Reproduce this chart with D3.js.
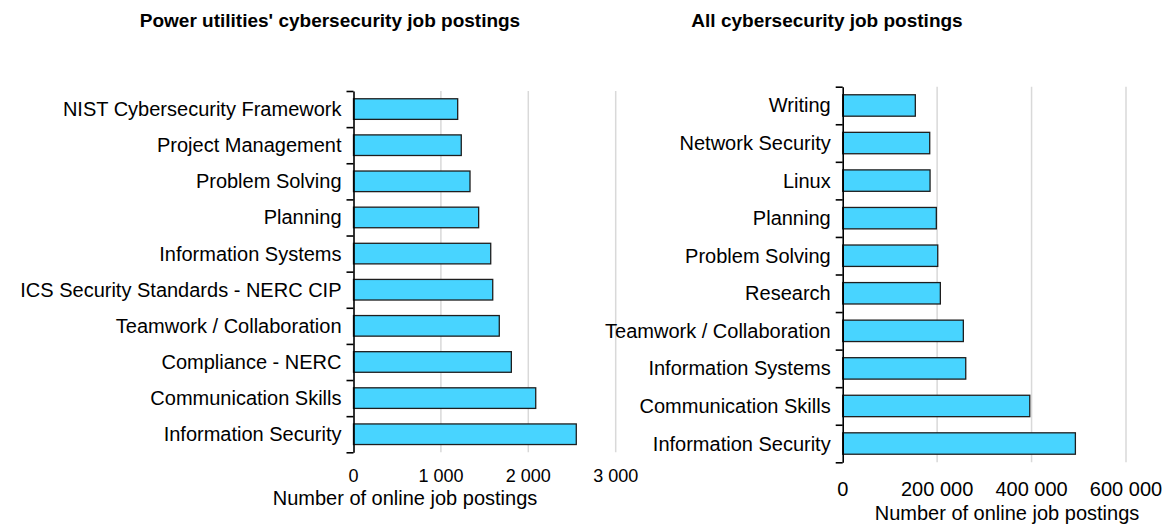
<!DOCTYPE html>
<html>
<head>
<meta charset="utf-8">
<script src="https://cdn.jsdelivr.net/npm/d3@7"></script>
<style>
  html, body { margin: 0; padding: 0; background: #fff; }
  svg { display: block; font-family: "Liberation Sans", Arial, sans-serif; }
</style>
</head>
<body>
<svg id="chart" width="1168" height="525"></svg>
<script>
// ---- Data ----
const leftTitle = "Power utilities' cybersecurity job postings";
const rightTitle = "All cybersecurity job postings";
const axisTitle = "Number of online job postings";

const leftCategories = [
  "NIST Cybersecurity Framework",
  "Project Management",
  "Problem Solving",
  "Planning",
  "Information Systems",
  "ICS Security Standards - NERC CIP",
  "Teamwork / Collaboration",
  "Compliance - NERC",
  "Communication Skills",
  "Information Security"
];
const leftValues = [1192, 1233, 1333, 1432, 1570, 1593, 1668, 1806, 2085, 2549];
const leftTicks = [0, 1000, 2000, 3000];

const rightCategories = [
  "Writing",
  "Network Security",
  "Linux",
  "Planning",
  "Problem Solving",
  "Research",
  "Teamwork / Collaboration",
  "Information Systems",
  "Communication Skills",
  "Information Security"
];
const rightValues = [153800, 184300, 185000, 198300, 201300, 206800, 255500, 260600, 396200, 492800];
const rightTicks = [0, 200000, 400000, 600000];

// ---- Rendering ----
const svg = d3.select("#chart");
const fmt = d3.formatLocale({decimal: ".", thousands: "\u2009", grouping: [3], currency: ["", ""]}).format(",");
const fmtSpace = v => fmt(v).replace(/\u2009/g, " ");

function panel(cfg) {
  const g = svg.append("g");
  const x = d3.scaleLinear().domain([0, cfg.ticks[cfg.ticks.length - 1]]).range([cfg.x0, cfg.x1]);
  const y = d3.scaleBand().domain(cfg.categories).range([cfg.top, cfg.bottom])
    .paddingInner(0.43).paddingOuter(0.215);
  const yb = d3.scaleLinear().domain([0, cfg.categories.length]).range([cfg.top, cfg.bottom]);

  // gridlines
  g.append("g").selectAll("line").data(cfg.ticks.filter(t => t > 0)).join("line")
    .attr("x1", d => x(d)).attr("x2", d => x(d))
    .attr("y1", cfg.top).attr("y2", cfg.bottom)
    .attr("stroke", "#d9d9d9").attr("stroke-width", 1.5);

  // bars
  g.append("g").selectAll("rect").data(cfg.categories).join("rect")
    .attr("x", x(0))
    .attr("y", d => y(d))
    .attr("width", (d, i) => x(cfg.values[i]) - x(0))
    .attr("height", y.bandwidth())
    .attr("fill", "#48D4FF")
    .attr("stroke", "#1e1e1e")
    .attr("stroke-width", 1.3);

  // y axis with ticks at band boundaries
  const ax = g.append("g").attr("transform", `translate(${x(0)},0)`)
    .call(d3.axisLeft(yb).tickValues(d3.range(cfg.categories.length + 1)).tickFormat("").tickSize(7).tickSizeOuter(0));
  ax.select(".domain").attr("stroke", "#000").attr("stroke-width", 1.6);
  ax.selectAll(".tick line").attr("stroke", "#000").attr("stroke-width", 1.6);

  // category labels
  g.append("g").selectAll("text").data(cfg.categories).join("text")
    .attr("x", x(0) - 12)
    .attr("y", d => y(d) + y.bandwidth() / 2)
    .attr("dy", "0.35em")
    .attr("text-anchor", "end")
    .attr("font-size", 20)
    .attr("fill", "#000")
    .text(d => d);

  // x tick labels
  g.append("g").selectAll("text").data(cfg.ticks).join("text")
    .attr("x", d => x(d))
    .attr("y", cfg.tickY)
    .attr("text-anchor", "middle")
    .attr("font-size", cfg.tickSize)
    .attr("fill", "#000")
    .text(d => fmtSpace(d));

  // axis title
  g.append("text")
    .attr("x", cfg.axisTitleX).attr("y", cfg.axisTitleY)
    .attr("text-anchor", "middle").attr("font-size", 20).attr("fill", "#000")
    .text(axisTitle);

  // chart title
  g.append("text")
    .attr("x", cfg.titleX).attr("y", 27)
    .attr("text-anchor", "middle").attr("font-size", 19).attr("font-weight", "bold").attr("fill", "#000")
    .text(cfg.title);
}

panel({
  title: leftTitle, categories: leftCategories, values: leftValues, ticks: leftTicks,
  x0: 353.5, x1: 615.7, top: 91, bottom: 452.3,
  tickY: 481.5, tickSize: 18, axisTitleX: 405, axisTitleY: 505, titleX: 330
});
panel({
  title: rightTitle, categories: rightCategories, values: rightValues, ticks: rightTicks,
  x0: 842.7, x1: 1126, top: 86.7, bottom: 462.3,
  tickY: 495.5, tickSize: 20, axisTitleX: 1007, axisTitleY: 520, titleX: 827
});
</script>
</body>
</html>
